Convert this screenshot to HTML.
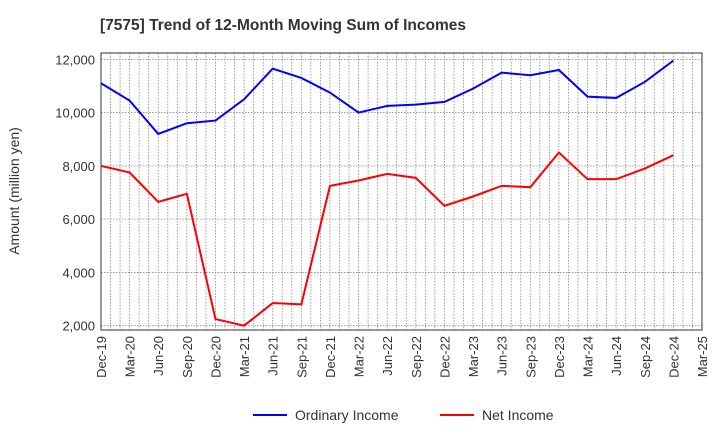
<!DOCTYPE html>
<html><head><meta charset="utf-8"><style>
body{margin:0;background:#fff;font-family:"Liberation Sans",sans-serif;}
</style></head><body>
<svg id="c" width="720" height="440" xmlns="http://www.w3.org/2000/svg">
<text x="100" y="30" font-size="15.5" font-weight="bold" fill="#333">[7575]  Trend of 12-Month Moving Sum of Incomes</text>
<text transform="translate(19,191) rotate(-90)" text-anchor="middle" font-size="14" fill="#333">Amount (million yen)</text>
<g id="grid"></g><g id="axes"></g><g id="series"></g>
<g>
<line x1="253" y1="415" x2="287" y2="415" stroke="#0000ff" stroke-width="2"/>
<text x="295" y="420" font-size="14" fill="#333">Ordinary Income</text>
<line x1="440" y1="415" x2="474" y2="415" stroke="#ff0000" stroke-width="2"/>
<text x="482" y="420" font-size="14" fill="#333">Net Income</text>
</g>
</svg>
<script>
const xLabels=["Dec-19","Mar-20","Jun-20","Sep-20","Dec-20","Mar-21","Jun-21","Sep-21","Dec-21","Mar-22","Jun-22","Sep-22","Dec-22","Mar-23","Jun-23","Sep-23","Dec-23","Mar-24","Jun-24","Sep-24","Dec-24","Mar-25"];
const ordinaryIncome=[11100,10450,9200,9600,9700,10500,11650,11300,10750,10000,10250,10300,10400,10900,11500,11400,11600,10600,10550,11150,11950];
const netIncome=[8000,7750,6650,6950,2250,2000,2850,2800,7250,7450,7700,7550,6500,6850,7250,7200,8500,7500,7500,7900,8400];
const yTicks=[2000,4000,6000,8000,10000,12000];
const L=101,R=702,T=53,B=330;
const NS="http://www.w3.org/2000/svg";
function X(i){return L+i*(R-L)/(xLabels.length-1);}
function Y(v){return 325.7-(v-2000)*(325.7-59.3)/10000;}
function mk(tag,attrs,parent){const e=document.createElementNS(NS,tag);for(const k in attrs)e.setAttribute(k,attrs[k]);document.getElementById(parent).appendChild(e);return e;}
for(let m=0;m<=(xLabels.length-1)*3;m++){const x=L+m*(R-L)/((xLabels.length-1)*3);
const g=mk('line',{x1:x,y1:T,x2:x,y2:B,stroke:'#888','stroke-width':0.8,'stroke-dasharray':'1.5,1.5'},'grid');

}
yTicks.forEach(v=>{const g=mk('line',{x1:L,y1:Y(v),x2:R,y2:Y(v),stroke:'#888','stroke-width':0.8,'stroke-dasharray':'1.5,1.5'},'grid');


const t=mk('text',{x:L-6,y:Y(v)+5,'text-anchor':'end','font-size':13,fill:'#333'},'axes');t.textContent=v.toLocaleString('en-US');

});
const f=mk('rect',{x:L,y:T,width:R-L,height:B-T,fill:'none',stroke:'#333','stroke-width':1},'axes');


xLabels.forEach((s,i)=>{const t=mk('text',{transform:`translate(${X(i)+5},${B+6}) rotate(-90)`,'text-anchor':'end','font-size':13,fill:'#333'},'axes');t.textContent=s;

});
function line(d,c,n){const p=mk('polyline',{points:d.map((v,i)=>X(i)+','+Y(v)).join(' '),fill:'none',stroke:c,'stroke-width':2},'series');

}
line(ordinaryIncome,'#0000ff','ordinary-income-line');
line(netIncome,'#ff0000','net-income-line');
</script>
</body></html>
